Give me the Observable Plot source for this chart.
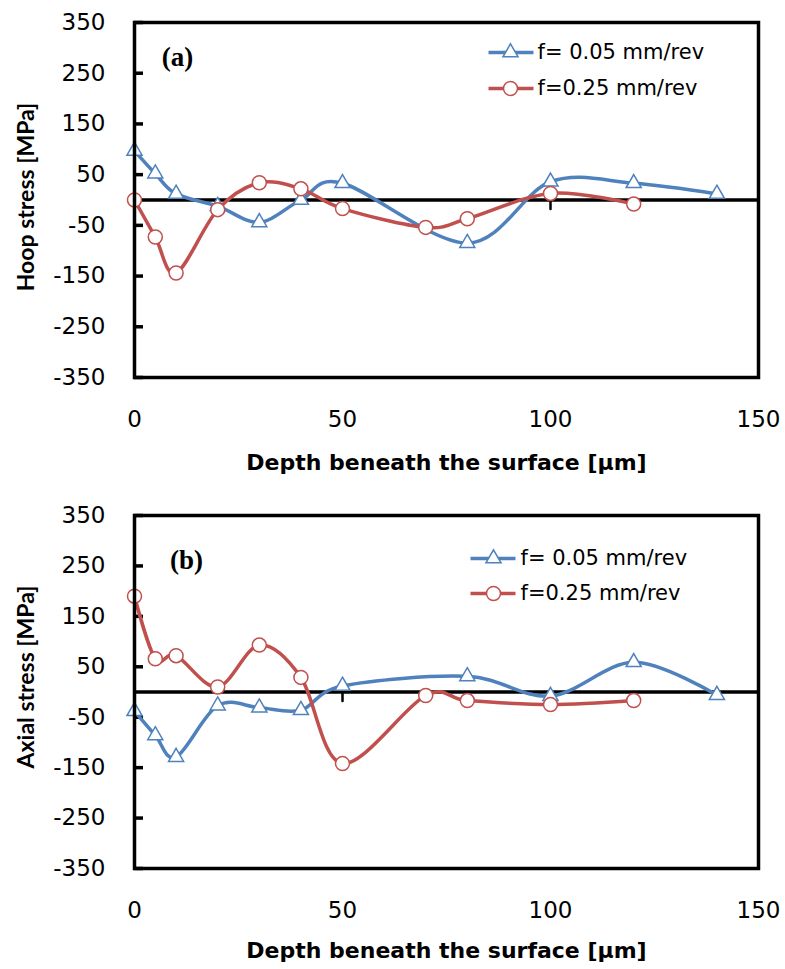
<!DOCTYPE html>
<html>
<head>
<meta charset="utf-8">
<script src="https://cdn.jsdelivr.net/npm/d3@7"></script>
<script src="https://cdn.jsdelivr.net/npm/@observablehq/plot@0.6"></script>
<style>
  html, body { margin: 0; padding: 0; background: #fff; }
  #chart svg { display: block; }
</style>
</head>
<body>
<div id="chart"></div>
<script>
// ---- data ----
const seriesLabels = ["f= 0.05 mm/rev", "f=0.25 mm/rev"];
const depth_f005 = [0, 5, 10, 20, 30, 40, 50, 80, 100, 120, 140];
const depth_f025 = [0, 5, 10, 20, 30, 40, 50, 70, 80, 100, 120];
const hoop_f005 = [97, 52, 12, -12, -44, 0, 33, -85, 36, 33, 12];
const hoop_f025 = [0, -73, -144, -19, 34, 22, -17, -54, -37, 13, -8];
const axial_f005 = [-38, -86, -129, -27, -31, -36, 12, 31, -8, 59, -6];
const axial_f025 = [190, 66, 72, 10, 93, 29, -142, -7, -17, -25, -17];
const xTicks = [0, 50, 100, 150];
const yTicks = [-350, -250, -150, -50, 50, 150, 250, 350];
const xTitle = "Depth beneath the surface [\u03bcm]";

const blue = "#4F81BD", red = "#C0504D";
const FONT = "DejaVu Sans";
const W = 785, ML = 134, MR = 27, TICK = 9;

const tickShape = { draw(context, l) { context.moveTo(0, 0); context.lineTo(0, -l); } };
const lineSymbol = { draw(context) { context.moveTo(-22.5, 0); context.lineTo(22.5, 0); } };

function rows(xs, ys) { return xs.map((x, i) => ({ x, y: ys[i] })); }

function panel(o) {
  const b = rows(depth_f005, o.blueY);
  const r = rows(depth_f025, o.redY);
  const legendMarks = [];
  [[blue, "triangle", 5.6], [red, "circle", 7]].forEach(([c, sym, rad], i) => {
    legendMarks.push(
      Plot.dot([seriesLabels[i]], {frameAnchor: "top-left", dx: o.legLineDx, dy: o.legDys[i], symbol: lineSymbol, stroke: c, strokeWidth: 3.5, fill: "none"}),
      Plot.dot([seriesLabels[i]], {frameAnchor: "top-left", dx: o.legMarkDx, dy: o.legDys[i], symbol: sym, r: rad, stroke: c, strokeWidth: 1.5, fill: "white"}),
      Plot.text([seriesLabels[i]], {frameAnchor: "top-left", dx: o.legTextDx, dy: o.legDys[i], text: d => d, textAnchor: "start", lineAnchor: "middle", fontSize: 21, fontFamily: FONT, fill: "black"})
    );
  });
  return Plot.plot({
    width: W,
    height: o.height,
    marginTop: o.mt,
    marginBottom: o.mb,
    marginLeft: ML,
    marginRight: MR,
    style: {fontFamily: FONT, color: "black", background: "white", overflow: "visible"},
    x: {domain: [0, 150]},
    y: {domain: [-350, 350]},
    marks: [
      Plot.ruleY([0], {stroke: "black", strokeWidth: 3.5}),
      Plot.axisX(xTicks, {tickSize: 0, tickPadding: 33, label: null, fontSize: 23, fontFamily: FONT, tickFormat: d => String(d)}),
      Plot.axisY(yTicks, {tickSize: 0, tickPadding: 29, label: null, fontSize: 23, fontFamily: FONT, tickFormat: d => String(d)}),
      Plot.tickY(yTicks, {y: d => d, insetRight: W - ML - MR - TICK, stroke: "black", strokeWidth: 3.5}),
      Plot.vector(xTicks, {x: d => d, y: () => 0, length: TICK, rotate: 180, anchor: "start", shape: tickShape, stroke: "black", strokeWidth: 2.5}),
      Plot.line(b, {x: "x", y: "y", curve: "cardinal", stroke: blue, strokeWidth: 3.5}),
      Plot.dot(b, {x: "x", y: "y", symbol: "triangle", r: 5.6, fill: "white", stroke: blue, strokeWidth: 1.5}),
      Plot.line(r, {x: "x", y: "y", curve: "cardinal", stroke: red, strokeWidth: 3.5}),
      Plot.dot(r, {x: "x", y: "y", symbol: "circle", r: 7, fill: "white", stroke: red, strokeWidth: 1.5}),
      Plot.frame({stroke: "black", strokeWidth: 3.5}),
      Plot.text([o.tag], {frameAnchor: "top-left", dx: o.tagDx, dy: o.tagDy, text: d => d, textAnchor: "middle", lineAnchor: "middle", fontSize: 27, fontWeight: "bold", fontFamily: "Liberation Serif", fill: "black"}),
      Plot.text([xTitle], {frameAnchor: "bottom", dy: o.xTitleDy, text: d => d, textAnchor: "middle", lineAnchor: "middle", fontSize: 22, fontWeight: "bold", fontFamily: FONT, fill: "black"}),
      Plot.text([o.yTitle], {frameAnchor: "left", dx: -108, dy: o.yTitleDy, text: d => d, rotate: -90, textAnchor: "middle", lineAnchor: "middle", fontSize: 23, fontWeight: "bold", fontFamily: "Lato", fill: "black"}),
      ...legendMarks
    ]
  });
}

const chart = document.getElementById("chart");
chart.append(panel({
  height: 484, mt: 22, mb: 107,
  blueY: hoop_f005, redY: hoop_f025,
  tag: "(a)", tagDx: 43, tagDy: 35,
  xTitleDy: 85, yTitle: "Hoop stress [MPa]", yTitleDy: -3,
  legLineDx: 376.5, legMarkDx: 376, legTextDx: 403, legDys: [30, 66]
}));
chart.append(panel({
  height: 485, mt: 31, mb: 101,
  blueY: axial_f005, redY: axial_f025,
  tag: "(b)", tagDx: 52, tagDy: 44.5,
  xTitleDy: 82, yTitle: "Axial stress [MPa]", yTitleDy: -15,
  legLineDx: 358.5, legMarkDx: 359, legTextDx: 386, legDys: [43, 78]
}));
</script>
</body>
</html>
